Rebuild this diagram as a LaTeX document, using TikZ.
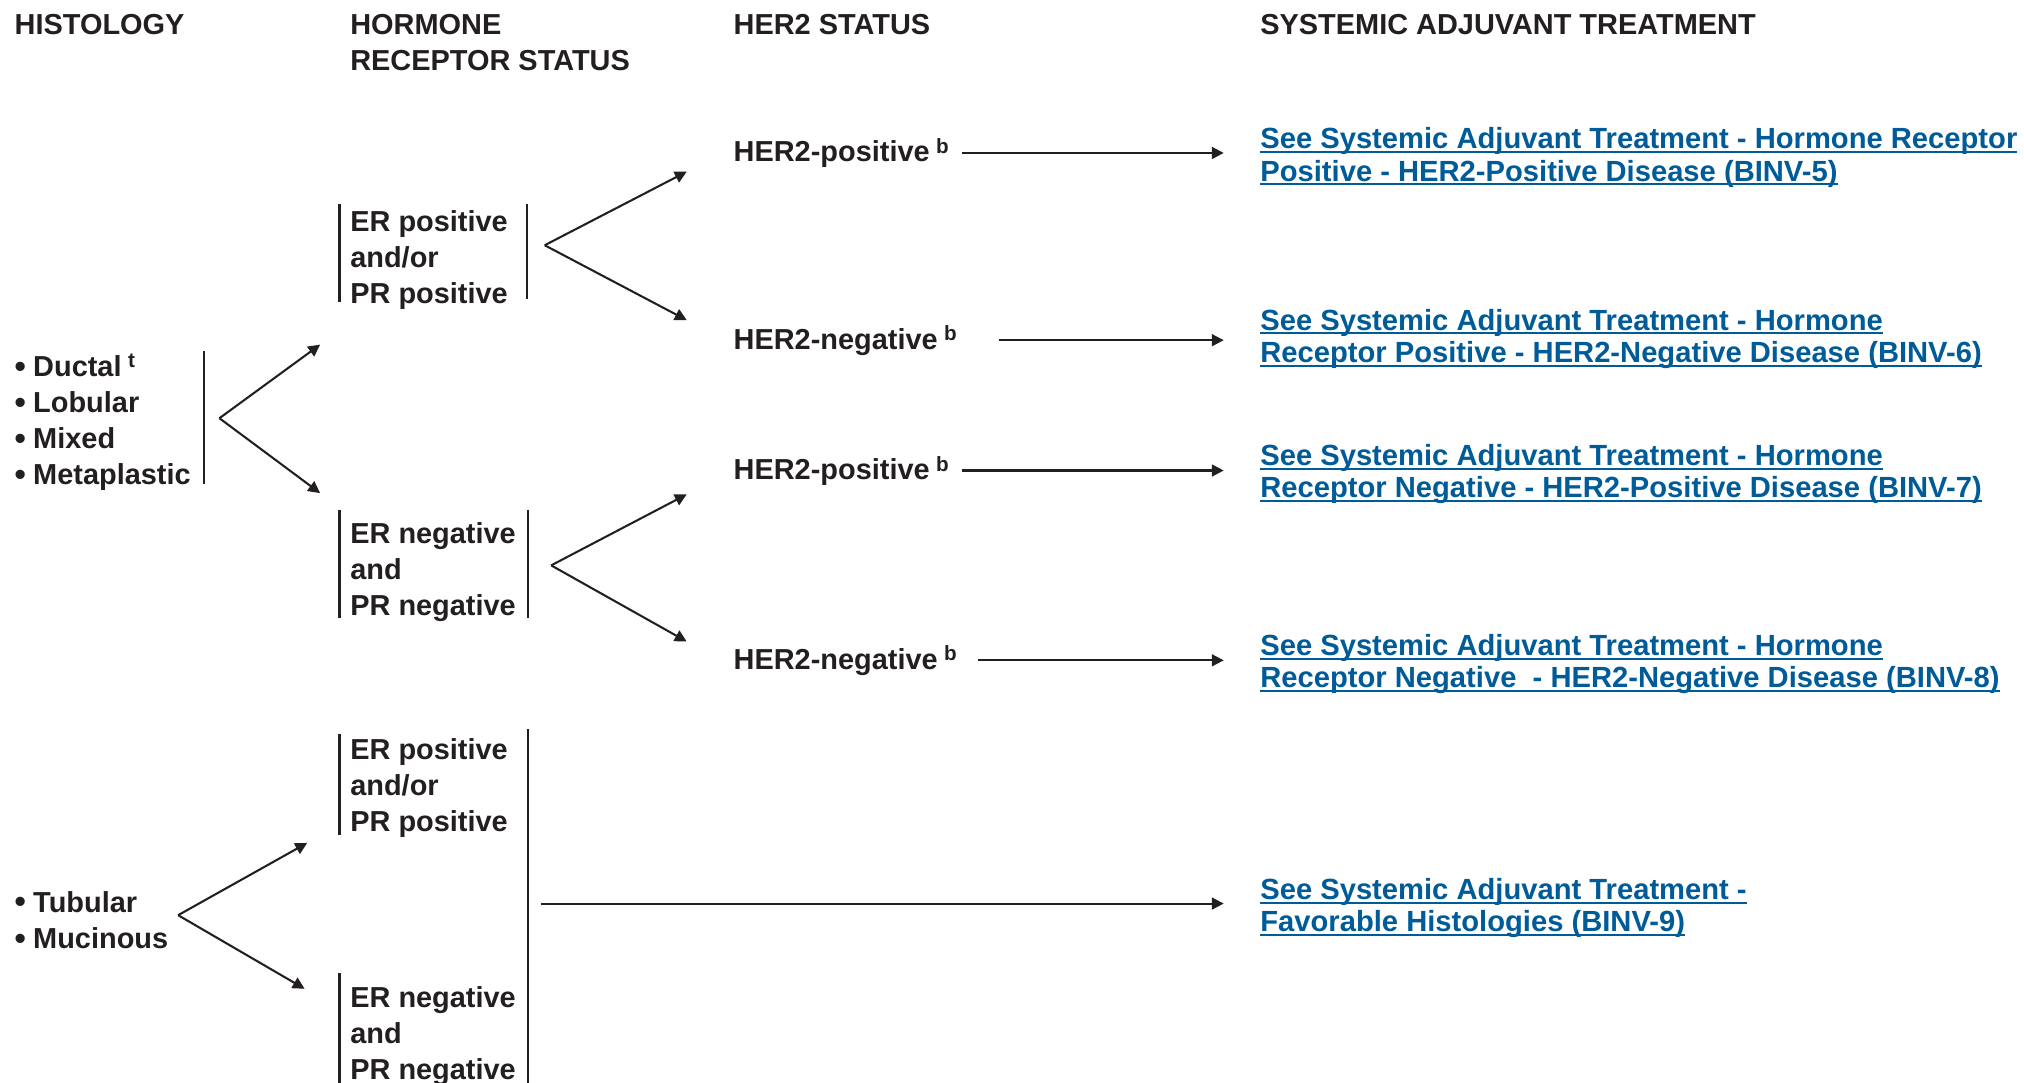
\documentclass[tikz,border=0pt]{standalone}
\usepackage{fontspec}
\setmainfont{Liberation Sans}
\usetikzlibrary{arrows.meta}
\definecolor{inkgray}{RGB}{35,31,32}
\definecolor{linkblue}{RGB}{0,91,153}
\newsavebox{\lnkbox}
\newcommand{\lnkline}[1]{\sbox{\lnkbox}{#1}\rlap{\rule[-1.6pt]{\wd\lnkbox}{0.75pt}}\usebox{\lnkbox}}
\newcommand{\supnote}[1]{\hspace{2.5pt}\smash{\raisebox{3.3pt}{\fontsize{8}{9}\selectfont #1}}}
\newcommand{\bul}{\raisebox{-0.3pt}{\fontsize{12.5}{14}\selectfont\textbullet}\hspace{2.8pt}}
\tikzset{
	txt/.style={inner sep=0pt, text=inkgray, font=\fontsize{11.2}{14}\selectfont\bfseries, align=left},
	lnk/.style={txt, text=linkblue, font=\fontsize{11.3}{12.5}\selectfont\bfseries},
	arr/.style={draw=inkgray, line width=0.8pt, -{Triangle[length=4.6pt,width=4.6pt]}},
	bar/.style={draw=inkgray, line width=0.85pt},
}
\begin{document}
\begin{tikzpicture}[x=0.5pt,y=-0.5pt]
	\useasboundingbox (0,0) rectangle (1568,839);
	% column heads
	\node[txt,anchor=north west](hdHist) at (11,10.5){HISTOLOGY};
	\node[txt,anchor=north west](hdHR) at (271,10.5){HORMONE\\RECEPTOR STATUS};
	\node[txt,anchor=north west](hdHer) at (568,10.5){HER2 STATUS};
	\node[txt,anchor=north west](hdTx) at (976,10.5){SYSTEMIC ADJUVANT TREATMENT};
	% histology
	\node[txt,anchor=north west](histA) at (11,275){\bul Ductal\supnote{t}\\\bul Lobular\\\bul Mixed\\\bul Metaplastic};
	\node[txt,anchor=north west](histB) at (11,690){\bul Tubular\\\bul Mucinous};
	% hormone receptor status
	\node[txt,anchor=north west](hrA) at (271,162.5){ER positive\\and/or\\PR positive};
	\node[txt,anchor=north west](hrB) at (271,404.5){ER negative\\and\\PR negative};
	\node[txt,anchor=north west](hrC) at (271,571.5){ER positive\\and/or\\PR positive};
	\node[txt,anchor=north west](hrD) at (271,763.5){ER negative\\and\\PR negative};
	% her2 status
	\node[txt,anchor=base west](her2a) at (568,125.5){HER2-positive\supnote{b}};
	\node[txt,anchor=base west](her2b) at (568,270.5){HER2-negative\supnote{b}};
	\node[txt,anchor=base west](her2c) at (568,371.5){HER2-positive\supnote{b}};
	\node[txt,anchor=base west](her2d) at (568,518.5){HER2-negative\supnote{b}};
	% treatment links
	\node[lnk,anchor=north west](seeA) at (976,98.5){\lnkline{See Systemic Adjuvant Treatment - Hormone Receptor}\\\lnkline{Positive - HER2-Positive Disease (BINV-5)}};
	\node[lnk,anchor=north west](seeB) at (976,239){\lnkline{See Systemic Adjuvant Treatment - Hormone}\\\lnkline{Receptor Positive - HER2-Negative Disease (BINV-6)}};
	\node[lnk,anchor=north west](seeC) at (976,344){\lnkline{See Systemic Adjuvant Treatment - Hormone}\\\lnkline{Receptor Negative - HER2-Positive Disease (BINV-7)}};
	\node[lnk,anchor=north west](seeD) at (976,491){\lnkline{See Systemic Adjuvant Treatment - Hormone}\\\lnkline{Receptor Negative\ \ - HER2-Negative Disease (BINV-8)}};
	\node[lnk,anchor=north west](seeE) at (976,680){\lnkline{See Systemic Adjuvant Treatment -}\\\lnkline{Favorable Histologies (BINV-9)}};
	% fork points
	\coordinate(fkA) at (170,324);
	\coordinate(fkA1) at (248,267);
	\coordinate(fkA2) at (248,382);
	\coordinate(fkB) at (422,190);
	\coordinate(fkB1) at (532,133);
	\coordinate(fkB2) at (532,248);
	\coordinate(fkC) at (427,438);
	\coordinate(fkC1) at (532,383);
	\coordinate(fkC2) at (532,497);
	\coordinate(fkD) at (138,709);
	\coordinate(fkD1) at (238,653);
	\coordinate(fkD2) at (236,766);
	\coordinate(fav) at (419,700);
	% bars
	\draw[bar] (158,272) to (158,375);
	\draw[bar] (263,158) to (263,234);
	\draw[bar] (408,158) to (408,232);
	\draw[bar] (263,395) to (263,479);
	\draw[bar] (409,395) to (409,479);
	\draw[bar] (263,569) to (263,647);
	\draw[bar] (263,754) to (263,839);
	\draw[bar] (409,565) to (409,839);
	% arrows
	\draw[arr] (fkA) to (fkA1);
	\draw[arr] (fkA) to (fkA2);
	\draw[arr] (fkB) to (fkB1);
	\draw[arr] (fkB) to (fkB2);
	\draw[arr] (fkC) to (fkC1);
	\draw[arr] (fkC) to (fkC2);
	\draw[arr] (fkD) to (fkD1);
	\draw[arr] (fkD) to (fkD2);
	\draw[arr] ([xshift=5pt,yshift=0.6pt]her2a.east) to ([xshift=-14pt,yshift=0.6pt]seeA.west |- her2a.east);
	\draw[arr] ([xshift=16pt,yshift=0.6pt]her2b.east) to ([xshift=-14pt,yshift=0.6pt]seeB.west |- her2b.east);
	\draw[arr] ([xshift=5pt,yshift=0.6pt]her2c.east) to ([xshift=-14pt,yshift=0.6pt]seeC.west |- her2c.east);
	\draw[arr] ([xshift=8pt,yshift=0.6pt]her2d.east) to ([xshift=-14pt,yshift=0.6pt]seeD.west |- her2d.east);
	\draw[arr] (fav) to ([xshift=-14pt]seeE.west |- fav);
\end{tikzpicture}
\end{document}
